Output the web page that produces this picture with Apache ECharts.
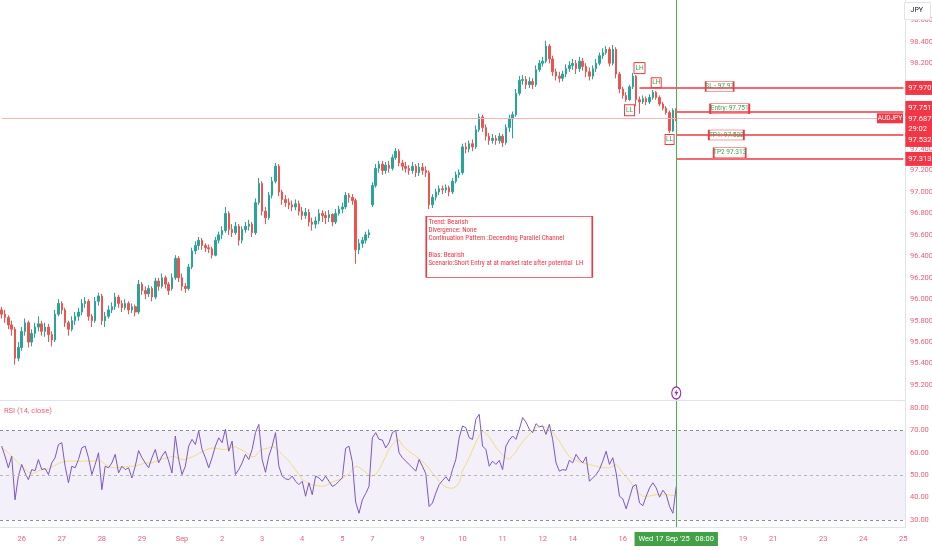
<!DOCTYPE html>
<html>
<head>
<meta charset="utf-8">
<title>AUDJPY</title>
<script src="https://cdn.jsdelivr.net/npm/echarts@6/dist/echarts.min.js"></script>
<style>
html, body { margin: 0; padding: 0; background: #fff; }
#main { width: 932px; height: 550px; }
</style>
</head>
<body>
<div id="main"></div>
<script>
// 2h slots: [date, first hour, last hour]
const tradingDays = [
	['08-25', 12, 22], ['08-26', 0, 22], ['08-27', 0, 22], ['08-28', 0, 22], ['08-29', 0, 16], ['08-31', 18, 22],
	['09-01', 0, 22], ['09-02', 0, 22], ['09-03', 0, 22], ['09-04', 0, 22], ['09-05', 0, 16], ['09-07', 18, 22],
	['09-08', 0, 22], ['09-09', 0, 22], ['09-10', 0, 22], ['09-11', 0, 22], ['09-12', 0, 16], ['09-14', 18, 22],
	['09-15', 0, 22], ['09-16', 0, 22], ['09-17', 0, 22], ['09-18', 0, 22], ['09-19', 0, 16], ['09-21', 18, 22],
	['09-22', 0, 22], ['09-23', 0, 22], ['09-24', 0, 22], ['09-25', 0, 0]
];

const tickLabels = [
	['08-26 00', '26'], ['08-27 00', '27'], ['08-28 00', '28'], ['08-29 00', '29'], ['09-01 00', 'Sep'],
	['09-02 00', '2'], ['09-03 00', '3'], ['09-04 00', '4'], ['09-05 00', '5'], ['09-07 18', '7'],
	['09-09 00', '9'], ['09-10 00', '10'], ['09-11 00', '11'], ['09-12 00', '12'], ['09-14 18', '14'],
	['09-16 00', '16'], ['09-19 00', '19'], ['09-21 18', '21'], ['09-23 00', '23'], ['09-24 00', '24'], ['09-25 00', '25']
];

const opens = [
	95.90, 95.86, 95.83, 95.76, 95.72, 95.45,
	95.55, 95.70, 95.78, 95.60, 95.68, 95.74, 95.77, 95.70, 95.74, 95.67, 95.62, 95.86,
	95.96, 95.90, 95.78, 95.72, 95.80, 95.84, 95.88, 95.96, 95.98, 95.84, 95.80, 95.98,
	96.03, 95.80, 95.84, 95.90, 95.93, 96.02, 95.96, 95.92, 95.96, 95.90, 95.93, 95.88,
	96.14, 96.08, 96.05, 96.10, 96.02, 96.17, 96.12, 96.20, 96.14,
	96.10, 96.20, 96.38,
	96.20, 96.12, 96.10, 96.30, 96.45, 96.50, 96.55, 96.50, 96.48, 96.47, 96.41, 96.55,
	96.60, 96.64, 96.80, 96.65, 96.62, 96.68, 96.55, 96.65, 96.68, 96.70, 96.62, 96.90,
	97.08, 96.82, 96.76, 96.97, 97.10, 97.24, 97.00, 96.93, 96.90, 96.88, 96.86, 96.89,
	96.82, 96.78, 96.81, 96.72, 96.70, 96.73, 96.80, 96.78, 96.76, 96.79, 96.72, 96.80,
	96.84, 96.86, 96.97, 96.95, 96.92, 96.46, 96.52, 96.55, 96.60,
	96.88, 97.06, 97.22,
	97.26, 97.20, 97.25, 97.22, 97.32, 97.38, 97.27, 97.24, 97.22, 97.20, 97.24, 97.18,
	97.23, 97.20, 97.18, 96.88, 96.95, 97.00, 97.03, 97.02, 97.04, 97.00, 97.10, 97.16,
	97.18, 97.42, 97.40, 97.45, 97.42, 97.58, 97.70, 97.60, 97.52, 97.48, 97.50, 97.48,
	97.52, 97.46, 97.60, 97.68, 97.72, 97.92, 98.04, 98.05, 98.00, 98.03, 98.00, 98.14,
	98.20, 98.22, 98.36, 98.24, 98.12, 98.08, 98.06, 98.10, 98.15,
	98.18, 98.20, 98.15,
	98.22, 98.17, 98.12, 98.08, 98.15, 98.20, 98.27, 98.30, 98.33, 98.20, 98.33, 98.10,
	97.96, 97.90, 97.86, 97.98, 98.08, 97.86, 97.84, 97.87, 97.84, 97.88, 97.93, 97.88,
	97.82, 97.78, 97.74, 97.57, 97.76
];

const closes = [
	95.86, 95.83, 95.76, 95.72, 95.45, 95.55,
	95.70, 95.78, 95.60, 95.68, 95.74, 95.77, 95.70, 95.74, 95.67, 95.62, 95.86, 95.96,
	95.90, 95.78, 95.72, 95.80, 95.84, 95.88, 95.96, 95.98, 95.84, 95.80, 95.98, 96.03,
	95.80, 95.84, 95.90, 95.93, 96.02, 95.96, 95.92, 95.96, 95.90, 95.93, 95.88, 96.14,
	96.08, 96.05, 96.10, 96.02, 96.17, 96.12, 96.20, 96.14, 96.08,
	96.20, 96.38, 96.20,
	96.12, 96.10, 96.30, 96.45, 96.50, 96.55, 96.50, 96.48, 96.47, 96.41, 96.55, 96.60,
	96.64, 96.80, 96.65, 96.62, 96.68, 96.55, 96.65, 96.68, 96.70, 96.62, 96.90, 97.08,
	96.82, 96.76, 96.97, 97.10, 97.24, 97.00, 96.93, 96.90, 96.88, 96.86, 96.89, 96.82,
	96.78, 96.81, 96.72, 96.70, 96.73, 96.80, 96.78, 96.76, 96.79, 96.72, 96.80, 96.84,
	96.86, 96.97, 96.95, 96.92, 96.46, 96.52, 96.55, 96.60, 96.62,
	97.06, 97.22, 97.26,
	97.20, 97.25, 97.22, 97.32, 97.38, 97.27, 97.24, 97.22, 97.20, 97.24, 97.18, 97.23,
	97.20, 97.18, 96.88, 96.95, 97.00, 97.03, 97.02, 97.04, 97.00, 97.10, 97.16, 97.18,
	97.42, 97.40, 97.45, 97.42, 97.58, 97.70, 97.60, 97.52, 97.48, 97.50, 97.48, 97.52,
	97.46, 97.60, 97.68, 97.72, 97.92, 98.04, 98.05, 98.00, 98.03, 98.00, 98.14, 98.20,
	98.22, 98.36, 98.24, 98.12, 98.08, 98.06, 98.10, 98.15, 98.18,
	98.20, 98.15, 98.22,
	98.17, 98.12, 98.08, 98.15, 98.20, 98.27, 98.30, 98.33, 98.20, 98.33, 98.10, 97.96,
	97.90, 97.86, 97.98, 98.08, 97.86, 97.84, 97.87, 97.84, 97.88, 97.93, 97.88, 97.82,
	97.78, 97.74, 97.57, 97.76, 97.687
];

const highs = [
	95.93, 95.90, 95.85, 95.80, 95.74, 95.60,
	95.74, 95.82, 95.80, 95.72, 95.78, 95.84, 95.80, 95.78, 95.77, 95.70, 95.90, 96.00,
	95.98, 95.92, 95.80, 95.84, 95.88, 95.92, 96.00, 96.02, 96.00, 95.86, 96.02, 96.06,
	96.05, 95.88, 95.94, 95.97, 96.06, 96.04, 95.99, 96.00, 95.98, 95.96, 95.95, 96.18,
	96.16, 96.12, 96.13, 96.12, 96.20, 96.20, 96.24, 96.22, 96.16,
	96.24, 96.41, 96.40,
	96.24, 96.15, 96.33, 96.48, 96.54, 96.58, 96.57, 96.52, 96.51, 96.49, 96.58, 96.63,
	96.68, 96.86, 96.82, 96.70, 96.72, 96.70, 96.68, 96.72, 96.74, 96.72, 96.94, 97.13,
	97.10, 96.86, 97.00, 97.14, 97.27, 97.26, 97.02, 96.97, 96.94, 96.92, 96.93, 96.92,
	96.86, 96.85, 96.84, 96.76, 96.77, 96.84, 96.83, 96.82, 96.83, 96.80, 96.84, 96.87,
	96.90, 97.00, 96.99, 96.98, 96.94, 96.56, 96.58, 96.63, 96.65,
	97.09, 97.26, 97.29,
	97.29, 97.28, 97.29, 97.35, 97.41, 97.40, 97.30, 97.28, 97.25, 97.28, 97.26, 97.27,
	97.27, 97.24, 97.20, 96.98, 97.03, 97.06, 97.06, 97.07, 97.06, 97.13, 97.19, 97.21,
	97.45, 97.46, 97.48, 97.49, 97.62, 97.73, 97.72, 97.63, 97.55, 97.54, 97.53, 97.55,
	97.54, 97.63, 97.72, 97.75, 97.96, 98.08, 98.09, 98.08, 98.07, 98.06, 98.18, 98.23,
	98.26, 98.41, 98.38, 98.27, 98.15, 98.12, 98.13, 98.19, 98.22,
	98.24, 98.23, 98.26,
	98.25, 98.20, 98.16, 98.18, 98.24, 98.30, 98.34, 98.36, 98.35, 98.37, 98.35, 98.12,
	97.98, 97.93, 98.00, 98.11, 98.09, 97.89, 97.90, 97.89, 97.91, 97.95, 97.94, 97.90,
	97.84, 97.80, 97.76, 97.78, 97.78
];

const lows = [
	95.82, 95.78, 95.72, 95.66, 95.39, 95.42,
	95.52, 95.66, 95.55, 95.56, 95.64, 95.70, 95.66, 95.65, 95.60, 95.56, 95.60, 95.84,
	95.86, 95.74, 95.66, 95.70, 95.76, 95.80, 95.85, 95.92, 95.80, 95.74, 95.78, 95.94,
	95.76, 95.74, 95.82, 95.87, 95.90, 95.92, 95.88, 95.90, 95.86, 95.87, 95.84, 95.86,
	96.04, 96.00, 96.02, 95.98, 96.00, 96.08, 96.10, 96.10, 96.04,
	96.08, 96.18, 96.16,
	96.08, 96.06, 96.08, 96.28, 96.42, 96.46, 96.46, 96.44, 96.43, 96.38, 96.40, 96.52,
	96.56, 96.62, 96.60, 96.58, 96.60, 96.50, 96.52, 96.62, 96.64, 96.58, 96.60, 96.88,
	96.78, 96.70, 96.74, 96.94, 97.08, 96.96, 96.88, 96.86, 96.84, 96.82, 96.83, 96.78,
	96.74, 96.75, 96.68, 96.64, 96.66, 96.70, 96.72, 96.70, 96.72, 96.68, 96.70, 96.78,
	96.80, 96.84, 96.90, 96.88, 96.33, 96.42, 96.48, 96.52, 96.57,
	96.86, 97.04, 97.18,
	97.16, 97.17, 97.18, 97.20, 97.30, 97.24, 97.20, 97.18, 97.16, 97.17, 97.14, 97.15,
	97.16, 97.14, 96.84, 96.85, 96.92, 96.97, 96.98, 96.99, 96.96, 96.98, 97.08, 97.13,
	97.16, 97.36, 97.37, 97.38, 97.40, 97.56, 97.56, 97.48, 97.44, 97.45, 97.44, 97.45,
	97.42, 97.44, 97.56, 97.50, 97.70, 97.90, 98.00, 97.96, 97.97, 97.96, 97.98, 98.12,
	98.17, 98.20, 98.20, 98.08, 98.04, 98.02, 98.03, 98.07, 98.12,
	98.14, 98.10, 98.12,
	98.13, 98.07, 98.04, 98.05, 98.12, 98.18, 98.24, 98.28, 98.17, 98.18, 98.06, 97.92,
	97.87, 97.84, 97.85, 97.96, 97.80, 97.73, 97.82, 97.81, 97.82, 97.86, 97.86, 97.80,
	97.76, 97.72, 97.55, 97.56, 97.66
];

const rsiValues = [
	63, 58.5, 53.3, 58.5, 39, 49.6, 54.8, 51, 48, 52.5,
	52, 57, 52.5, 53, 50.3, 55.5, 57.8, 63.7, 64.5, 54,
	46.6, 54, 53.3, 57, 62.2, 63, 57.8, 50.3, 54.8, 60,
	43.5, 54, 53.3, 55.5, 59.3, 51, 54, 52.5, 53.3, 48.8,
	54, 61, 57.8, 55.5, 53.3, 57.8, 61.5, 55.5, 58.5, 60.7,
	56.3, 51, 67.5, 57, 50.3, 54, 63, 66, 63.7, 69.7,
	61.5, 57.8, 53.3, 57.8, 63, 66.7, 64.5, 70.5, 60.7, 65.2,
	50.3, 52.5, 55.5, 59.3, 57, 61.5, 69, 72.7, 57, 51.3,
	58.5, 63, 69, 54, 49.6, 48.4, 48, 49.6, 47.3, 45.8,
	47.3, 40.6, 46.6, 41.3, 49.6, 48.8, 47.3, 49.6, 47.3, 45,
	45.8, 47.3, 48.8, 62, 63, 56, 38, 33, 39, 41.8,
	45, 66.7, 69, 66, 65.7, 62.2, 64.5, 69, 70, 60,
	57.8, 56.3, 54.8, 53.3, 51.8, 57, 54, 50.7, 36, 37.6,
	42, 45.8, 47.6, 49.3, 47.3, 52.5, 57, 66.7, 72, 71.2,
	66.7, 66, 75, 77.2, 63, 61.5, 54, 56.3, 54.8, 56.6,
	52.5, 63, 65.7, 67.5, 66, 70.5, 75.7, 73.7, 70.5, 69,
	73, 71.6, 72, 68.2, 72.7, 66, 55.5, 51.8, 52.5, 52.2,
	56.7, 55.5, 59.3, 57, 55.5, 58.2, 47.3, 48.8, 50.3, 52.5,
	56.3, 60.7, 54.8, 57.8, 51, 40.6, 39.4, 35, 39.9, 45,
	45.8, 37.6, 36.4, 40.6, 44.3, 46.6, 44.3, 40.2, 43.3, 41.3,
	36, 33, 45
];

const rsiMa = [
	62, 61.2, 60, 58.5, 57, 55.5, 54, 52.5, 51.5, 50.7,
	51, 52, 52.5, 52.5, 52.8, 53.7, 54.5, 55.2, 55.8, 56.1,
	56.3, 56.3, 56.3, 56.3, 56.3, 56.3, 56.3, 56.3, 56.4, 56.9,
	56, 54.8, 54, 53.4, 53.3, 53.4, 53.6, 53.8, 54, 54,
	54.2, 54.5, 55, 55.4, 55.5, 55.5, 56, 56.7, 57.3, 57.6,
	57.9, 58.4, 58.2, 57.5, 57, 57, 57.5, 58.2, 58.8, 59.7,
	60.4, 61.2, 61.8, 62.1, 62.1, 61.8, 61.5, 61.5, 61.8, 62.5,
	62.7, 61.9, 61.2, 60.3, 59.3, 58.2, 58.5, 60.4, 61.5, 61.9,
	62.2, 62.8, 62.2, 60.7, 59.3, 57.8, 56.3, 54.5, 52.5, 50.3,
	48, 47.3, 46.3, 45.7, 45.4, 45.2, 45, 45.4, 46, 46.9,
	47.5, 47.9, 48.7, 49.6, 50.4, 52.5, 54, 53.6, 52.5, 51.3,
	50.1, 49.6, 50.4, 52.5, 55.2, 58.5, 61.8, 63.7, 65.4, 65.8,
	63.4, 61.9, 60.6, 59.6, 58.5, 57.3, 56.1, 54.8, 53, 51,
	49.3, 47.3, 45.7, 44.8, 44.3, 44.2, 44.8, 46.6, 52, 54.8,
	57.8, 61.2, 64.8, 67.5, 69.7, 68.5, 67.2, 64.8, 62.5, 60.7,
	58.9, 57.8, 57, 58.8, 60.3, 63, 64.8, 66.7, 68.2, 70,
	71.2, 71.6, 72, 71.2, 70.4, 69.3, 67.2, 65.2, 62.7, 60.3,
	58.2, 57.3, 56.7, 56, 55.5, 55.1, 54.8, 54.3, 54, 53.6,
	53.3, 53.3, 53.3, 54, 54.8, 53.3, 51, 49.3, 47.5, 45.5,
	43.6, 41.8, 40.6, 40.6, 40.7, 41, 41.3, 41.3, 41.3, 41.3,
	41.2, 40.9, 40.6
];

const levelPrices = [97.970, 97.751, 97.532, 97.313];
const levelTexts = ['SL - 97.97', 'Entry: 97.751', 'TP1: 97.532', 'TP2 97.313'];
const lastPrice = 97.687;
const countdown = '29:02';
const noteLines = [
	'Trend: Bearish',
	'Divergence: None',
	'Continuation Pattern :Decending Parallel Channel',
	'',
	'Bias: Bearish',
	'Scenario:Short Entry at at market rate after potential  LH'
];

const UP = '#26a69a';
const DOWN = '#ef5350';
const RED = '#f23645';
const AXIS_RED = '#f0607a';
const GREEN_TXT = '#43a047';
const FONT = "Roboto, 'Noto Sans', sans-serif";

let categories = [];
tradingDays.forEach(function (d) {
	for (let h = d[1]; h <= d[2]; h += 2) {
		categories.push(d[0] + ' ' + (h < 10 ? '0' + h : '' + h));
	}
});
let labelMap = {};
tickLabels.forEach(function (t) { labelMap[t[0]] = t[1]; });

let candles = closes.map(function (c, i) {
	return [opens[i], c, lows[i], highs[i]];
});

// slot name helper, so marks are placed through the category axis
function cat(i) { return categories[i]; }
let lastIdx = categories.length - 1;
let nowIdx = closes.length - 1;

function priceTag(text, dy) {
	return {
		show: true, position: 'end', distance: 2, formatter: text, offset: [0, dy],
		color: '#fff', backgroundColor: RED, padding: [2, 3, 2, 3],
		fontSize: 7.5, lineHeight: 10, fontFamily: FONT
	};
}

// horizontal rays: SL starts a bit before the entry time
let levelStarts = [191, nowIdx, nowIdx, nowIdx];
let tagShift = [0, -3.5, 5, 0.5];
let levelLines = levelPrices.map(function (p, i) {
	let lab = priceTag(p.toFixed(3), tagShift[i]);
	let ls = { color: RED, width: 1.6, type: 'solid' };
	return [
		{ coord: [cat(levelStarts[i]), p], lineStyle: ls, label: lab },
		{ coord: [cat(lastIdx), p], lineStyle: ls, label: lab }
	];
});
let lastLab = priceTag(lastPrice.toFixed(3) + '\n' + countdown, 6);
let lastStyle = { color: '#f7b2ba', width: 1, type: 'solid' };
levelLines.unshift([
	{ coord: [cat(0), lastPrice], lineStyle: lastStyle, label: lastLab },
	{ coord: [cat(lastIdx), lastPrice], lineStyle: lastStyle, label: lastLab }
]);
levelLines.push({ xAxis: cat(nowIdx), lineStyle: { color: '#4caf50', width: 1, type: 'solid' }, label: { show: false } });

function boxMark(idx, price, text, w, h, txtColor, fontSize) {
	return {
		coord: [cat(idx), price], symbol: 'rect', symbolSize: [w, h],
		itemStyle: { color: 'rgba(255,255,255,0)', borderColor: RED, borderWidth: 1 },
		label: { show: true, position: 'inside', formatter: text, color: txtColor, fontSize: fontSize, fontFamily: FONT }
	};
}

let marks = [
	boxMark(191, 98.155, 'LH', 11, 11, GREEN_TXT, 6.5),
	boxMark(188, 97.761, 'LL', 10, 11, GREEN_TXT, 6.5),
	boxMark(196, 98.018, 'LH', 10, 10, GREEN_TXT, 6.5),
	boxMark(200, 97.49, 'LL', 9, 10, GREEN_TXT, 6.5),
	boxMark(215, 97.983, levelTexts[0], 28, 10, GREEN_TXT, 6.5),
	boxMark(218, 97.775, levelTexts[1], 39, 10, GREEN_TXT, 6.5),
	boxMark(217, 97.532, levelTexts[2], 35, 10, GREEN_TXT, 6.5),
	boxMark(218, 97.365, levelTexts[3], 32, 10, GREEN_TXT, 6.5),
	{
		coord: [cat(266), lastPrice], symbol: 'rect', symbolSize: [26, 10],
		itemStyle: { color: RED },
		label: { show: true, position: 'inside', formatter: 'AUDJPY', color: '#fff', fontSize: 6.5, fontFamily: FONT }
	},
	{
		coord: [cat(152), 96.488], symbol: 'rect', symbolSize: [166, 61],
		itemStyle: { color: 'rgba(255,255,255,0)', borderColor: RED, borderWidth: 1 },
		label: {
			show: true, position: [3, 2], align: 'left', verticalAlign: 'top',
			formatter: noteLines.join('\n'), color: RED, fontSize: 7, lineHeight: 8.2,
			fontFamily: "'Liberation Sans Narrow', 'Roboto Condensed', 'Arial Narrow', Roboto, sans-serif"
		}
	},
	{
		coord: [cat(nowIdx), 95.126], symbol: 'circle', symbolSize: [9, 12],
		itemStyle: { color: '#fff', borderColor: '#9c27b0', borderWidth: 1.2 },
		label: { show: false }
	},
	{
		coord: [cat(nowIdx), 95.126], symbol: 'path://M6,0 L0,9 L4,9 L3,16 L9,6 L5,6 Z', symbolSize: [4, 7],
		itemStyle: { color: '#9c27b0' },
		label: { show: false }
	}
];

let dash = function (c) {
	return { color: c, width: 1, type: [3, 3] };
};

let option = {
	animation: false,
	backgroundColor: '#ffffff',
	textStyle: { fontFamily: FONT },
	grid: [
		{ left: 0, right: 27, top: 0, height: 400, outerBoundsMode: 'none', containLabel: false },
		{ left: 0, right: 27, top: 401, height: 126, outerBoundsMode: 'none', containLabel: false }
	],
	xAxis: [
		{
			type: 'category', gridIndex: 0, data: categories,
			axisLine: { show: true, lineStyle: { color: '#e0e3eb' } },
			axisTick: { show: false }, axisLabel: { show: false }, splitLine: { show: false }
		},
		{
			type: 'category', gridIndex: 1, data: categories,
			axisLine: { show: true, lineStyle: { color: '#e0e3eb' } },
			axisTick: { show: false }, splitLine: { show: false },
			axisLabel: {
				interval: function (i, v) { return labelMap[v] !== undefined; },
				formatter: function (v) { return labelMap[v] || ''; },
				color: AXIS_RED, fontSize: 7.5, margin: 8
			}
		}
	],
	yAxis: [
		{
			type: 'value', gridIndex: 0, position: 'right', min: 95.06, max: 98.79, splitNumber: 18,
			axisLine: { show: true, lineStyle: { color: '#e0e3eb' } },
			axisTick: { show: false }, splitLine: { show: false },
			axisLabel: {
				formatter: function (v) { return v.toFixed(3); },
				color: AXIS_RED, fontSize: 7.5, margin: 5, showMinLabel: false, showMaxLabel: false
			}
		},
		{
			type: 'value', gridIndex: 1, position: 'right', min: 26.875, max: 83.125, splitNumber: 5,
			axisLine: { show: true, lineStyle: { color: '#e0e3eb' } },
			axisTick: { show: false }, splitLine: { show: false },
			axisLabel: {
				formatter: function (v) { return v.toFixed(2); },
				color: AXIS_RED, fontSize: 7.5, margin: 5, showMinLabel: false, showMaxLabel: false
			}
		}
	],
	graphic: [
		{ type: 'text', left: 4, top: 407, style: { text: 'RSI (14, close)', fill: AXIS_RED, fontSize: 7.5, fontFamily: FONT } },
		{ type: 'rect', right: 1, top: 2, z: 100, shape: { width: 26, height: 17 }, style: { fill: '#fff', stroke: '#e0e3eb' } },
		{ type: 'text', right: 9, top: 7, z: 101, style: { text: 'JPY', fill: '#131722', fontSize: 7, fontFamily: FONT } }
	],
	series: [
		{
			type: 'candlestick', name: 'AUDJPY', xAxisIndex: 0, yAxisIndex: 0,
			data: candles, barWidth: '60%',
			itemStyle: { color: UP, color0: DOWN, borderColor: UP, borderColor0: DOWN, borderWidth: 1 },
			markLine: { silent: true, symbol: ['none', 'none'], animation: false, data: levelLines },
			markPoint: { silent: true, animation: false, data: marks }
		},
		{
			type: 'line', name: 'RSI MA', xAxisIndex: 1, yAxisIndex: 1, data: rsiMa,
			showSymbol: false, symbol: 'none', lineStyle: { color: '#f3dc80', width: 1 }
		},
		{
			type: 'line', name: 'RSI', xAxisIndex: 1, yAxisIndex: 1, data: rsiValues,
			showSymbol: false, symbol: 'none', lineStyle: { color: '#7e57c2', width: 1 },
			markArea: {
				silent: true, itemStyle: { color: 'rgba(126,87,194,0.09)' },
				data: [[{ yAxis: 70 }, { yAxis: 30 }]]
			},
			markLine: {
				silent: true, symbol: ['none', 'none'], animation: false,
				data: [
					{ yAxis: 70, lineStyle: dash('#8a8d96'), label: { show: false } },
					{ yAxis: 50, lineStyle: dash('#b4b6bd'), label: { show: false } },
					{ yAxis: 30, lineStyle: dash('#8a8d96'), label: { show: false } },
					{
						xAxis: cat(nowIdx), lineStyle: { color: '#4caf50', width: 1, type: 'solid' },
						label: {
							show: true, position: 'start', distance: 5,
							formatter: "Wed 17 Sep '25   08:00",
							color: '#fff', backgroundColor: '#43a047', padding: [3, 4, 3, 4],
							fontSize: 7.5, fontFamily: FONT
						}
					}
				]
			}
		}
	]
};

let chart = echarts.init(document.getElementById('main'));
chart.setOption(option);
</script>
</body>
</html>
